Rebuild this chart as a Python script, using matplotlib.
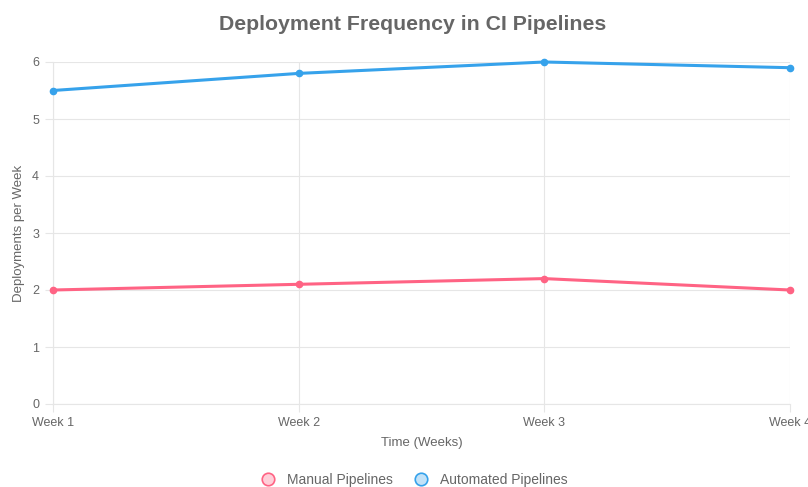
import matplotlib.pyplot as plt
from matplotlib.lines import Line2D

weeks = ["Week 1", "Week 2", "Week 3", "Week 4"]
manual = [2.0, 2.1, 2.2, 2.0]
automated = [5.5, 5.8, 6.0, 5.9]
y_ticks = [0, 1, 2, 3, 4, 5, 6]

red = (255/255, 99/255, 132/255)
blue = (54/255, 162/255, 235/255)
red_fill = (255/255, 99/255, 132/255, 0.3)
blue_fill = (54/255, 162/255, 235/255, 0.3)
grid_c = '#e6e6e6'

plt.rcParams['font.family'] = ['Liberation Sans', 'DejaVu Sans']

fig = plt.figure(figsize=(8.08, 4.87), dpi=100)
ax = fig.add_axes([53/808, 1-404/487, (790-53)/808, (404-62)/487])

x = list(range(len(weeks)))
ax.plot(x, manual, color=red, lw=2.2, marker='o', ms=4.5,
        markerfacecolor=red, markeredgecolor=red, zorder=3, clip_on=False)
ax.plot(x, automated, color=blue, lw=2.2, marker='o', ms=4.5,
        markerfacecolor=blue, markeredgecolor=blue, zorder=3, clip_on=False)

ax.set_xlim(0, len(weeks)-1)
ax.set_ylim(0, 6)
ax.set_xticks(x)
ax.set_xticklabels(weeks)
ax.set_yticks(y_ticks)
for s in ax.spines.values():
    s.set_visible(False)
ax.spines['left'].set_visible(True)
ax.spines['bottom'].set_visible(True)
ax.spines['left'].set_color(grid_c)
ax.spines['bottom'].set_color(grid_c)
ax.tick_params(axis='both', color=grid_c, labelcolor='#666666',
               labelsize=9, length=6, width=0.8)
ax.tick_params(axis='x', pad=3)
ax.tick_params(axis='y', pad=4)
ax.grid(True, color=grid_c, lw=0.8)
ax.set_axisbelow(True)

ax.set_xlabel("Time (Weeks)", color='#666666', fontsize=9.5, labelpad=6)
ax.set_ylabel("Deployments per Week", color='#666666', fontsize=9.5, labelpad=5)

fig.text(413/808, 1-25/487, "Deployment Frequency in CI Pipelines", ha='center', va='center',
         fontsize=15.3, fontweight='bold', color='#666666')

handles = [
    Line2D([], [], marker='o', ls='none', ms=9, markerfacecolor=red_fill, markeredgecolor=red, markeredgewidth=1.2),
    Line2D([], [], marker='o', ls='none', ms=9, markerfacecolor=blue_fill, markeredgecolor=blue, markeredgewidth=1.2),
]
fig.legend(handles, ["Manual Pipelines", "Automated Pipelines"], loc='center',
           bbox_to_anchor=(411/808, 1-480/487), ncol=2, frameon=False, fontsize=10,
           labelcolor='#666666', handletextpad=0.4, columnspacing=1.0)

fig.savefig("out.png", dpi=100)
